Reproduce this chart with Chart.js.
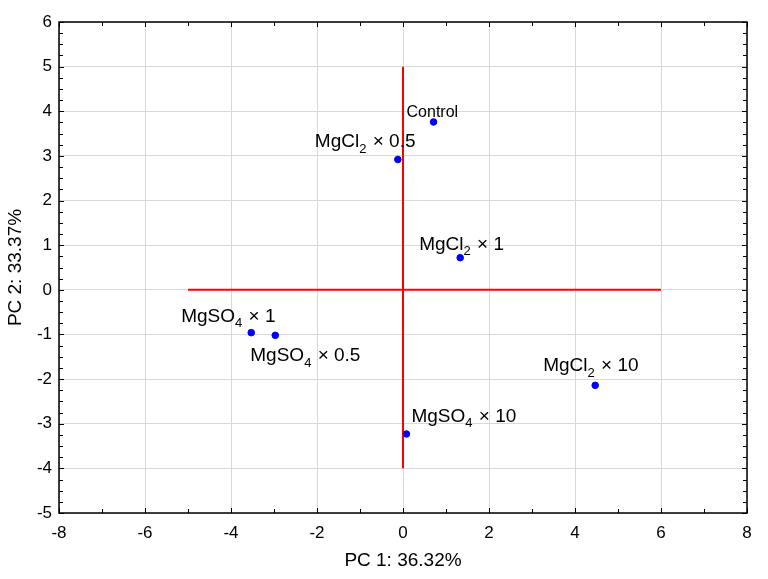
<!DOCTYPE html>
<html>
<head>
<meta charset="utf-8">
<script src="https://cdn.jsdelivr.net/npm/chart.js@4"></script>
<style>
  html, body { margin: 0; padding: 0; background: #fff; }
  #wrap { width: 768px; height: 579px; }
</style>
</head>
<body>
<div id="wrap"><canvas id="pca"></canvas></div>
<script>
// sample names (_N means subscript N)
const samples = ['Control', 'MgCl_2 × 0.5', 'MgCl_2 × 1', 'MgSO_4 × 1', 'MgSO_4 × 0.5', 'MgCl_2 × 10', 'MgSO_4 × 10']
const pc1 = [0.71, -0.12, 1.33, -3.53, -2.97, 4.47, 0.08]
const pc2 = [3.76, 2.92, 0.72, -0.96, -1.02, -2.14, -3.23]

// red reference cross
const crossX = [-5, 6]
const crossY = [-4, 5]

const xTitle = 'PC 1: 36.32%'
const yTitle = 'PC 2: 33.37%'

// label placement relative to point (px): dx, baseline dy, font size
const labelOffsets = [[-27, -5, 16], [-83, -12, 19], [-41, -8, 19], [-70, -11, 19], [-25, 26, 19], [-52, -14, 19], [5, -12, 19]]

const FONT = '"Liberation Sans", Arial, sans-serif'

let points = []
for (let i = 0; i < samples.length; i++) {
    points.push({x: pc1[i], y: pc2[i]})
}

function drawLabel(ctx, text, x, y, size) {
    let parts = text.split(/(_\d)/)
    let cx = x
    parts.forEach(p => {
        if (!p) return
        if (p[0] === '_') {
            ctx.font = Math.round(size * 0.7) + 'px ' + FONT
            ctx.fillText(p.slice(1), cx, y + size * 0.28)
            cx += ctx.measureText(p.slice(1)).width + 1
        } else {
            ctx.font = size + 'px ' + FONT
            ctx.fillText(p, cx, y)
            cx += ctx.measureText(p).width
        }
    })
}

const framePlugin = {
    id: 'frame',
    afterDatasetsDraw(chart) {
        const ctx = chart.ctx
        const a = chart.chartArea
        const xs = chart.scales.x, ys = chart.scales.y
        ctx.save()
        ctx.strokeStyle = '#000'
        ctx.lineWidth = 1.5
        ctx.strokeRect(a.left, a.top, a.right - a.left, a.bottom - a.top)
        ctx.lineWidth = 1
        ctx.beginPath()
        for (let v = xs.min; v <= xs.max; v += 1) {
            let px = Math.round(xs.getPixelForValue(v)) + 0.5
            let len = v % 2 === 0 ? 5 : 4
            ctx.moveTo(px, a.bottom); ctx.lineTo(px, a.bottom - len)
            ctx.moveTo(px, a.top); ctx.lineTo(px, a.top + len)
        }
        for (let v = ys.min; v <= ys.max + 0.001; v += 0.25) {
            let py = Math.round(ys.getPixelForValue(v)) + 0.5
            let len = Math.abs(v - Math.round(v)) < 0.001 ? 5 : 4
            ctx.moveTo(a.left, py); ctx.lineTo(a.left + len, py)
            ctx.moveTo(a.right, py); ctx.lineTo(a.right - len, py)
        }
        ctx.stroke()

        // point labels
        ctx.fillStyle = '#000'
        ctx.textBaseline = 'alphabetic'
        for (let i = 0; i < samples.length; i++) {
            let px = xs.getPixelForValue(pc1[i])
            let py = ys.getPixelForValue(pc2[i])
            let o = labelOffsets[i]
            drawLabel(ctx, samples[i], px + o[0], py + o[1], o[2])
        }
        ctx.restore()
    }
}

const data = {
    datasets: [
        {
            data: [{x: crossX[0], y: 0}, {x: crossX[1], y: 0}],
            showLine: true,
            borderColor: '#ff0000',
            borderWidth: 2,
            pointRadius: 0,
            order: 2
        },
        {
            data: [{x: 0, y: crossY[0]}, {x: 0, y: crossY[1]}],
            showLine: true,
            borderColor: '#ff0000',
            borderWidth: 2,
            pointRadius: 0,
            order: 2
        },
        {
            data: points,
            pointStyle: 'circle',
            pointRadius: 3.3,
            pointBackgroundColor: '#0000ff',
            pointBorderColor: '#0000ff',
            pointBorderWidth: 1,
            order: 1
        }
    ]
}

const config = {
    type: 'scatter',
    data: data,
    plugins: [framePlugin],
    options: {
        responsive: true,
        maintainAspectRatio: false,
        animation: false,
        layout: {
            padding: {top: 22, right: 21, left: 0, bottom: 0}
        },
        plugins: {
            legend: { display: false },
            tooltip: { enabled: false }
        },
        scales: {
            x: {
                type: 'linear',
                min: -8,
                max: 8,
                afterFit: s => { s.height = 66 },
                ticks: {
                    stepSize: 2,
                    color: '#000',
                    padding: 10,
                    font: {family: FONT, size: 17}
                },
                grid: { color: '#d9d9d9', lineWidth: 1, drawTicks: false },
                border: { display: false },
                title: {
                    display: true,
                    text: xTitle,
                    color: '#000',
                    font: {family: FONT, size: 19},
                    padding: {top: 0, bottom: 7}
                }
            },
            y: {
                type: 'linear',
                min: -5,
                max: 6,
                afterFit: s => { s.width = 59 },
                ticks: {
                    stepSize: 1,
                    color: '#000',
                    padding: 7,
                    font: {family: FONT, size: 17}
                },
                grid: { color: '#d9d9d9', lineWidth: 1, drawTicks: false },
                border: { display: false },
                title: {
                    display: true,
                    text: yTitle,
                    color: '#000',
                    font: {family: FONT, size: 19},
                    padding: {top: 4, bottom: 0}
                }
            }
        }
    }
}

new Chart(document.getElementById('pca'), config)
</script>
</body>
</html>
